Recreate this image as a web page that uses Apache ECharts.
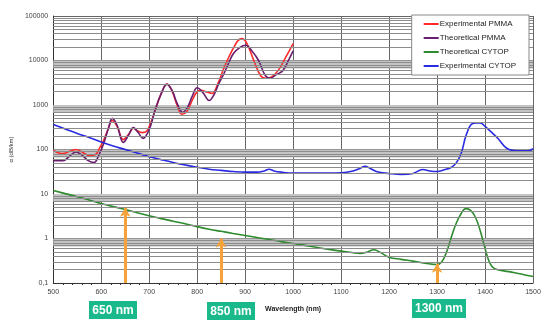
<!DOCTYPE html>
<html>
<head>
<meta charset="utf-8">
<script src="https://cdn.jsdelivr.net/npm/echarts@6/dist/echarts.min.js"></script>
<style>html,body{margin:0;padding:0;background:#fff}#c{width:550px;height:332px}</style>
</head>
<body>
<div id="c"></div>
<script>
// ---- data ----
const xTicks = [500, 600, 700, 800, 900, 1000, 1100, 1200, 1300, 1400, 1500];
const yTicks = [0.1, 1, 10, 100, 1000, 10000, 100000];
const seriesNames = ['Experimental PMMA', 'Theoretical PMMA', 'Theoretical CYTOP', 'Experimental CYTOP'];

const expPMMA = [[500,95],[510,85],[520,81],[535,92],[547,100],[560,88],[575,73],[588,77],[597,110],[605,160],[615,300],[623,450],[633,330],[646,167],[657,220],[667,300],[675,265],[685,240],[695,260],[705,450],[712,750],[725,1800],[737,3000],[748,2000],[758,1000],[768,620],[778,700],[790,1300],[800,2000],[808,2150],[820,1950],[831,1820],[843,3000],[856,6900],[866,12000],[876,19500],[885,28000],[893,31000],[903,25000],[918,10000],[932,4600],[942,4000],[955,4300],[969,6000],[985,12000],[1000,24000]];

const theoPMMA = [[500,56],[520,56],[535,72],[547,88],[560,75],[572,57],[585,51],[595,75],[605,135],[615,300],[623,500],[633,350],[646,144],[657,210],[667,310],[677,240],[687,178],[697,240],[705,400],[712,750],[725,1800],[737,2900],[748,2100],[758,1100],[770,680],[780,900],[790,1600],[800,2450],[812,1900],[825,1260],[835,1700],[845,3000],[856,5100],[866,9000],[876,14500],[890,20000],[901,22000],[915,16000],[928,10000],[942,4600],[952,4000],[965,4800],[979,6000],[990,10000],[1000,16500]];

const theoCYTOP = [[500,12],[525,10.2],[550,8.7],[575,7.3],[600,6.1],[625,5.2],[650,4.5],[675,3.8],[700,3.25],[725,2.8],[750,2.45],[775,2.15],[800,1.85],[825,1.62],[850,1.45],[875,1.3],[900,1.17],[925,1.05],[950,0.95],[975,0.85],[1000,0.77],[1025,0.7],[1050,0.63],[1075,0.57],[1100,0.52],[1125,0.48],[1140,0.46],[1155,0.5],[1168,0.56],[1180,0.5],[1200,0.38],[1225,0.34],[1250,0.31],[1275,0.28],[1300,0.26],[1310,0.3],[1320,0.5],[1330,1.1],[1340,2.2],[1350,3.6],[1360,4.7],[1370,4.3],[1380,3.0],[1390,1.5],[1400,0.6],[1410,0.28],[1420,0.21],[1450,0.18],[1475,0.16],[1500,0.14]];

const expCYTOP = [[500,363],[525,288],[550,229],[575,186],[600,148],[625,120],[650,100],[675,83],[700,69],[725,59],[750,51],[775,45],[800,40],[825,36],[850,34],[875,32],[900,31],[925,31],[940,33],[950,36],[960,33],[975,31],[1000,29.5],[1050,29.5],[1100,30],[1125,33],[1140,38],[1150,42],[1160,38],[1175,31.5],[1200,29],[1225,27.5],[1250,29],[1270,35.5],[1285,33],[1300,32],[1315,35],[1330,40],[1340,50],[1350,80],[1360,200],[1370,355],[1380,395],[1390,395],[1400,330],[1425,186],[1450,100],[1475,93],[1490,93],[1500,105]];

const markers = [[650, 4.9], [850, 1.0], [1300, 0.27]];
const markerLabels = ['650 nm', '850 nm', '1300 nm'];

// ---- derived grid helpers ----
const minorLines = [];
const bands = [];
for (let i = 0; i < yTicks.length - 1; i++) {
  const d = yTicks[i];
  for (let k = 2; k <= 9; k++) minorLines.push({ yAxis: +(d * k).toPrecision(6) });
  if (i < yTicks.length - 2) bands.push([{ yAxis: d * 10 * 0.66 }, { yAxis: d * 10 }]);
}
const arrowLines = markers.map(m => [{ coord: [m[0], 0.1] }, { coord: [m[0], m[1]] }]);

const chart = echarts.init(document.getElementById('c'), null, { renderer: 'canvas' });
const FONT = 'Liberation Sans';
const lineStyle = (c) => ({ color: c, width: 1.6 });
const box = (x, y, w, h, t) => ({ type: 'group', left: x, top: y, z: 20, children: [
  { type: 'rect', shape: { x: 0, y: 0, width: w, height: h }, style: { fill: '#19b98c' } },
  { type: 'text', x: w / 2, y: h / 2 + 0.5, style: { text: t, fill: '#fff', fontSize: 12, fontWeight: 'bold', fontFamily: FONT, align: 'center', verticalAlign: 'middle' } }
]});

chart.setOption({
  animation: false,
  backgroundColor: '#fff',
  textStyle: { fontFamily: FONT },
  grid: { left: 47, right: 17, top: 16, bottom: 49 },
  legend: {
    data: seriesNames,
    z: 20,
    orient: 'vertical',
    right: 21, top: 15,
    padding: [4, 13, 4, 12],
    itemGap: 4,
    itemWidth: 15, itemHeight: 2,
    icon: 'rect',
    backgroundColor: '#fff',
    borderColor: '#888', borderWidth: 1,
    textStyle: { fontSize: 8, color: '#222', fontFamily: FONT, lineHeight: 10, padding: [0, 0, 0, -4] }
  },
  xAxis: {
    type: 'value', min: 500, max: 1500, interval: 100,
    name: 'Wavelength (nm)', nameLocation: 'middle', nameGap: 23,
    nameTextStyle: { fontSize: 7, fontWeight: 'bold', color: '#222', fontFamily: FONT },
    axisLine: { lineStyle: { color: '#333', width: 1 } },
    axisTick: { show: false },
    minorTick: { show: true, splitNumber: 5, length: 2, lineStyle: { color: '#333' } },
    axisLabel: { fontSize: 7, color: '#444', margin: 6, fontFamily: FONT, formatter: v => String(v) },
    splitLine: { show: true, lineStyle: { color: '#666', width: 1 } }
  },
  yAxis: {
    type: 'log', logBase: 10, min: 0.1, max: 100000,
    name: 'α (dB/km)', nameLocation: 'middle', nameGap: 35, nameRotate: 90,
    nameTextStyle: { fontSize: 6, color: '#333', fontFamily: FONT },
    axisLine: { show: true, lineStyle: { color: '#333' } },
    axisTick: { show: false },
    axisLabel: {
      fontSize: 7, color: '#444', margin: 5, fontFamily: FONT,
      formatter: v => (v < 1 ? String(+v.toPrecision(3)).replace('.', ',') : String(Math.round(v)))
    },
    splitLine: { show: true, lineStyle: { color: '#666', width: 1 } }
  },
  graphic: [
    box(89, 301, 48, 18, markerLabels[0]),
    box(207, 302, 48, 18, markerLabels[1]),
    box(412, 299, 54, 19, markerLabels[2])
  ],
  series: [
    {
      name: 'grid', type: 'line', data: [], z: 1, silent: true,
      markArea: { silent: true, itemStyle: { color: '#c4c4c4' }, data: bands },
      markLine: { silent: true, symbol: 'none', label: { show: false },
        lineStyle: { color: '#8c8c8c', width: 1, type: 'solid' }, data: minorLines }
    },
    { name: seriesNames[0], type: 'line', data: expPMMA, smooth: 0.4, showSymbol: false, lineStyle: lineStyle('#ff2a2a'), itemStyle: { color: '#ff2a2a' }, z: 3 },
    { name: seriesNames[1], type: 'line', data: theoPMMA, smooth: 0.4, showSymbol: false, lineStyle: lineStyle('#6a1f6e'), itemStyle: { color: '#6a1f6e' }, z: 3 },
    { name: seriesNames[2], type: 'line', data: theoCYTOP, smooth: 0.4, showSymbol: false, lineStyle: lineStyle('#2e8b2e'), itemStyle: { color: '#2e8b2e' }, z: 3 },
    { name: seriesNames[3], type: 'line', data: expCYTOP, smooth: 0.4, showSymbol: false, lineStyle: lineStyle('#2a2ae0'), itemStyle: { color: '#2a2ae0' }, z: 3 },
    {
      name: 'arrows', type: 'line', data: [], z: 4, silent: true,
      markLine: { silent: true, symbol: ['none', 'arrow'], symbolSize: [8, 9], label: { show: false },
        lineStyle: { color: '#f6a23a', width: 3, type: 'solid' }, data: arrowLines }
    }
  ]
});
</script>
</body>
</html>
